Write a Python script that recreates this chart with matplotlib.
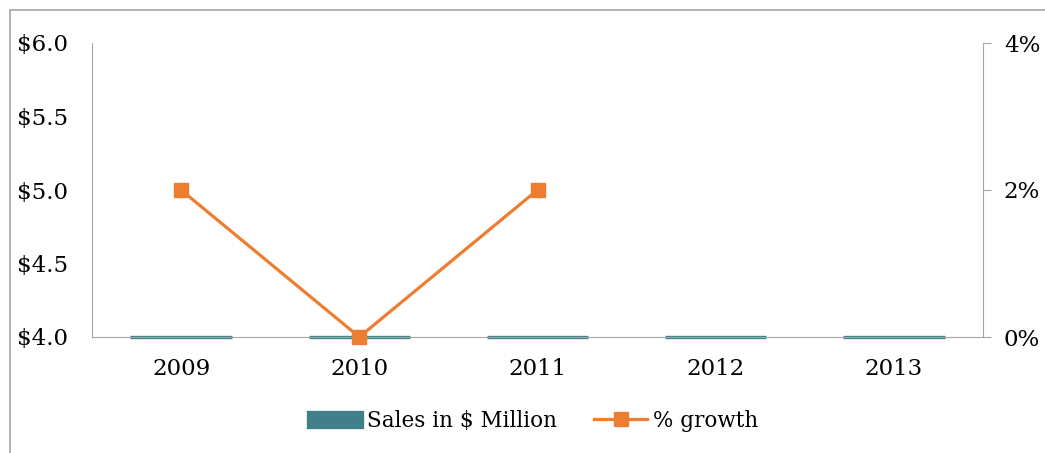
import matplotlib
matplotlib.use("Agg")
import matplotlib.pyplot as plt
import numpy as np
from matplotlib.patches import Rectangle
from matplotlib.ticker import FuncFormatter

years = ["2009", "2010", "2011", "2012", "2013"]
sales = [4.0, 4.0, 4.0, 4.0, 4.0]
growth = [2.0, 0.0, 2.0, np.nan, np.nan]
sales_ticks = [4.0, 4.5, 5.0, 5.5, 6.0]
growth_ticks = [0, 2, 4]

teal = "#41808A"
orange = "#ED7D31"
gray = "#A6A6A6"

plt.rcParams['font.family'] = ['DejaVu Serif']

fig = plt.figure(figsize=(10.45, 4.53), dpi=100)
ax = fig.add_axes([92/1045, 1-337/453, (983-92)/1045, (337-43)/453])
ax2 = ax.twinx()

x = np.arange(len(years))
ymin = sales_ticks[0]
bars = ax.bar(x, np.array(sales) - ymin, bottom=ymin, width=0.57, color=teal,
              edgecolor=teal, linewidth=2.4, label="Sales in $ Million", zorder=2,
              clip_on=False)
ax.set_ylim(sales_ticks[0], sales_ticks[-1])
ax.set_yticks(sales_ticks)
ax.yaxis.set_major_formatter(FuncFormatter(lambda v, p: f"${v:.1f}"))
ax.set_xlim(-0.5, len(years) - 0.5)
ax.set_xticks(x)
ax.set_xticklabels(years)

line, = ax2.plot(x, growth, color=orange, linewidth=2.3, marker="s", markersize=10,
                 label="% growth", zorder=3, clip_on=False)
ax2.set_ylim(growth_ticks[0], growth_ticks[-1])
ax2.set_yticks(growth_ticks)
ax2.yaxis.set_major_formatter(FuncFormatter(lambda v, p: f"{v:.0f}%"))

for a in (ax, ax2):
    for s in a.spines.values():
        s.set_visible(False)
ax.spines['left'].set_visible(True)
ax.spines['left'].set_color(gray)
ax.spines['bottom'].set_visible(True)
ax.spines['bottom'].set_color(gray)
ax.spines['bottom'].set_zorder(3)
ax2.spines['right'].set_visible(True)
ax2.spines['right'].set_color(gray)

ax.tick_params(axis='y', length=0, pad=17, labelsize=16.5)
ax.tick_params(axis='x', length=0, pad=15, labelsize=16.5)
ax2.tick_params(axis='y', length=6, color=gray, direction='out', pad=9, labelsize=16.5)

fig.legend(handles=[bars, line], labels=["Sales in $ Million", "% growth"],
           loc='center', bbox_to_anchor=(533/1045, 1-421/453), ncol=2, frameon=False,
           fontsize=15.5, handlelength=2.5, handletextpad=0.25, columnspacing=1.7)

fig.patches.append(Rectangle((10/1045, -0.1), 1.2, 1 - 10/453 + 0.1, transform=fig.transFigure,
                             fill=False, edgecolor=gray, linewidth=1.2, clip_on=False))

fig.savefig("out.png", dpi=100)
